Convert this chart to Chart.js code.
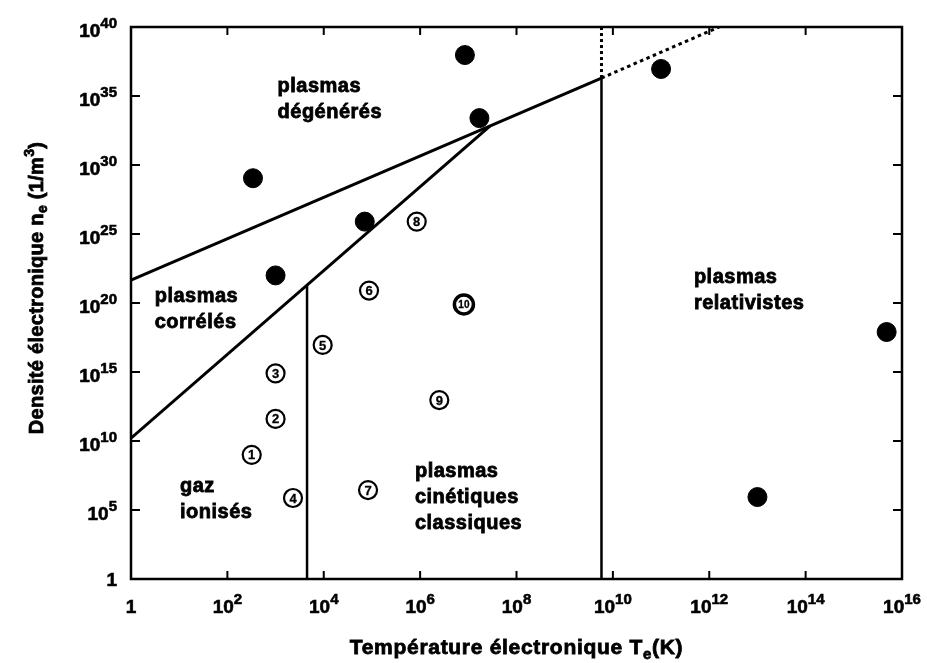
<!DOCTYPE html>
<html lang="fr">
<head>
<meta charset="utf-8">
<title>Domaines des plasmas</title>
<script src="https://cdn.jsdelivr.net/npm/chart.js@4.4.1/dist/chart.umd.min.js"></script>
<style>
  html, body { margin: 0; padding: 0; background: #fff; }
  canvas { display: block; }
</style>
</head>
<body>
<canvas id="plasma_cv" width="927" height="663"></canvas>
<script>
// graduations
const tempTicks = [1, 1e2, 1e4, 1e6, 1e8, 1e10, 1e12, 1e14, 1e16];
const densTicks = [1, 1e5, 1e10, 1e15, 1e20, 1e25, 1e30, 1e35, 1e40];

// frontières entre domaines (T en K, n en 1/m3)
const degenT = [1, 5.8e9];          // plasmas dégénérés
const degenN = [4.5e21, 2.0e36];
const degenRelT = [5.8e9, 1.6e12];  // prolongement en pointillé
const degenRelN = [2.0e36, 1e40];
const correlT = [1, 2.8e7];         // plasmas corrélés
const correlN = [1.6e10, 6.6e32];
const gasT = [4.5e3, 4.5e3];        // gaz ionisés
const gasN = [1, 1.9e21];
const relatT = [5.8e9, 5.8e9];      // plasmas relativistes
const relatN = [1, 2.0e36];
const relatTopT = [5.8e9, 5.8e9];
const relatTopN = [2.0e36, 1e40];

// exemples de plasmas
const filledT = [3.4e2, 1e3, 7.1e4, 8.5e6, 1.7e7, 1e11, 1e13, 4.8e15];
const filledN = [1.1e29, 1e22, 7.9e25, 9.3e37, 2.5e33, 9.1e36, 8.7e5, 7.9e17];
const numLabels = ['1', '2', '3', '4', '5', '6', '7', '8', '9', '10'];
const numT = [3.2e2, 1e3, 1e3, 2.3e3, 9.5e3, 8.7e4, 8.3e4, 8.5e5, 2.5e6, 8.1e6];
const numN = [1e9, 4e11, 8e14, 7.4e5, 9.1e16, 8e20, 2.8e6, 7.9e25, 9.3e12, 7.9e19];

// noms des domaines
const regionNames = [
  ['plasmas', 'dégénérés'],
  ['plasmas', 'corrélés'],
  ['gaz', 'ionisés'],
  ['plasmas', 'cinétiques', 'classiques'],
  ['plasmas', 'relativistes']
];
const regionT = [1.1e3, 3.1, 10.4, 7.8e5, 4.8e11];
const regionN = [1.9e35, 1.2e20, 2e6, 2.5e7, 2.8e21];

const FONT = "'Liberation Sans', Arial, Helvetica, sans-serif";

const pts = (xs, ys) => xs.map((v, i) => ({x: v, y: ys[i]}));

// texte gras épaissi
function heavyText(ctx, s, x, y) {
  ctx.fillText(s, x, y);
  ctx.strokeText(s, x, y);
}

// texte avec exposants / indices
function drawRuns(ctx, runs, x, y, align) {
  let w = 0;
  runs.forEach(r => {
    ctx.font = 'bold ' + r.size + 'px ' + FONT;
    w += ctx.measureText(r.t).width;
  });
  let cx = align === 'center' ? x - w / 2 : align === 'right' ? x - w : x;
  ctx.textAlign = 'left';
  ctx.textBaseline = 'alphabetic';
  runs.forEach(r => {
    ctx.font = 'bold ' + r.size + 'px ' + FONT;
    heavyText(ctx, r.t, cx, y + (r.dy || 0));
    cx += ctx.measureText(r.t).width;
  });
}

function powerRuns(v) {
  const e = Math.round(Math.log10(v));
  if (e === 0) return [{t: '1', size: 19}];
  return [{t: '10', size: 19}, {t: String(e), size: 15, dy: -9}];
}

// cadre, graduations vers l'intérieur et titres
const axesPlugin = {
  id: 'axesPlugin',
  afterDraw: function (chart) {
    const ctx = chart.ctx;
    const a = chart.chartArea;
    const xs = chart.scales.x, ys = chart.scales.y;
    ctx.save();
    ctx.strokeStyle = '#000';
    ctx.fillStyle = '#000';
    ctx.lineWidth = 2.5;
    ctx.strokeRect(a.left, a.top, a.right - a.left, a.bottom - a.top);

    ctx.lineWidth = 2;
    ctx.beginPath();
    tempTicks.forEach(function (v, i) {
      if (i === 0 || i === tempTicks.length - 1) return;
      const px = xs.getPixelForValue(v);
      ctx.moveTo(px, a.bottom); ctx.lineTo(px, a.bottom - 8);
      ctx.moveTo(px, a.top); ctx.lineTo(px, a.top + 8);
    });
    densTicks.forEach(function (v, i) {
      if (i === 0 || i === densTicks.length - 1) return;
      const py = ys.getPixelForValue(v);
      ctx.moveTo(a.left, py); ctx.lineTo(a.left + 9, py);
      ctx.moveTo(a.right, py); ctx.lineTo(a.right - 9, py);
    });
    ctx.stroke();

    ctx.lineWidth = 0.6;
    ctx.letterSpacing = '0px';
    tempTicks.forEach(function (v) {
      drawRuns(ctx, powerRuns(v), xs.getPixelForValue(v), a.bottom + 34, 'center');
    });
    densTicks.forEach(function (v) {
      const py = ys.getPixelForValue(v);
      drawRuns(ctx, powerRuns(v), a.left - 14, v === 1 ? py + 7 : py + 10, 'right');
    });

    ctx.lineWidth = 0.8;
    ctx.letterSpacing = '0.7px';
    drawRuns(ctx, [
      {t: 'Température électronique T', size: 21},
      {t: 'e', size: 15, dy: 5},
      {t: '(K)', size: 21}
    ], (a.left + a.right) / 2, 654, 'center');

    ctx.translate(43, (a.top + a.bottom) / 2 - 15);
    ctx.rotate(-Math.PI / 2);
    ctx.letterSpacing = '0.3px';
    drawRuns(ctx, [
      {t: 'Densité électronique n', size: 20},
      {t: 'e', size: 14, dy: 4},
      {t: ' (1/m', size: 20},
      {t: '3', size: 14, dy: -9},
      {t: ')', size: 20}
    ], 0, 0, 'center');
    ctx.restore();
  }
};

// noms des domaines et numéros des exemples
const labelPlugin = {
  id: 'labelPlugin',
  afterDatasetsDraw: function (chart) {
    const ctx = chart.ctx;
    const xs = chart.scales.x, ys = chart.scales.y;
    ctx.save();
    ctx.fillStyle = '#000';
    ctx.strokeStyle = '#000';
    ctx.lineWidth = 0.8;
    ctx.font = 'bold 20px ' + FONT;
    ctx.letterSpacing = '0.5px';
    ctx.textAlign = 'left';
    ctx.textBaseline = 'alphabetic';
    regionNames.forEach(function (lines, i) {
      const px = xs.getPixelForValue(regionT[i]);
      const py = ys.getPixelForValue(regionN[i]);
      lines.forEach(function (s, j) {
        heavyText(ctx, s, px, py + j * 26);
      });
    });

    ctx.letterSpacing = '0px';
    ctx.lineWidth = 0.3;
    ctx.textAlign = 'center';
    ctx.textBaseline = 'middle';
    const meta = chart.getDatasetMeta(7);
    meta.data.forEach(function (el, i) {
      const s = numLabels[i];
      ctx.font = 'bold ' + (s.length > 1 ? 10 : 13) + 'px ' + FONT;
      heavyText(ctx, s, el.x, el.y + 1);
    });
    ctx.restore();
  }
};

const lineStyle = {showLine: true, pointRadius: 0, borderColor: '#000', fill: false, tension: 0};

const chart = new Chart(document.getElementById('plasma_cv'), {
  type: 'scatter',
  data: {
    datasets: [
      Object.assign({}, lineStyle, {data: pts(degenT, degenN), borderWidth: 3}),
      Object.assign({}, lineStyle, {data: pts(correlT, correlN), borderWidth: 3}),
      Object.assign({}, lineStyle, {data: pts(gasT, gasN), borderWidth: 2.5}),
      Object.assign({}, lineStyle, {data: pts(relatT, relatN), borderWidth: 2.5}),
      Object.assign({}, lineStyle, {data: pts(degenRelT, degenRelN), borderWidth: 3, borderDash: [3.5, 3.5]}),
      Object.assign({}, lineStyle, {data: pts(relatTopT, relatTopN), borderWidth: 3, borderDash: [3, 3]}),
      {
        data: pts(filledT, filledN),
        pointRadius: 9.5,
        pointBackgroundColor: '#000',
        pointBorderColor: '#000',
        pointBorderWidth: 1
      },
      {
        data: pts(numT, numN),
        pointRadius: function (c) { return c.dataIndex === 9 ? 9.5 : 9; },
        pointBackgroundColor: '#fff',
        pointBorderColor: '#000',
        pointBorderWidth: function (c) { return c.dataIndex === 9 ? 3.5 : 2.2; }
      }
    ]
  },
  options: {
    responsive: false,
    animation: false,
    events: [],
    layout: {padding: {left: 131, right: 25, top: 27, bottom: 84}},
    plugins: {legend: {display: false}, tooltip: {enabled: false}},
    scales: {
      x: {type: 'logarithmic', min: 1, max: 1e16, display: false},
      y: {type: 'logarithmic', min: 1, max: 1e40, display: false}
    }
  },
  plugins: [labelPlugin, axesPlugin]
});
</script>
</body>
</html>
